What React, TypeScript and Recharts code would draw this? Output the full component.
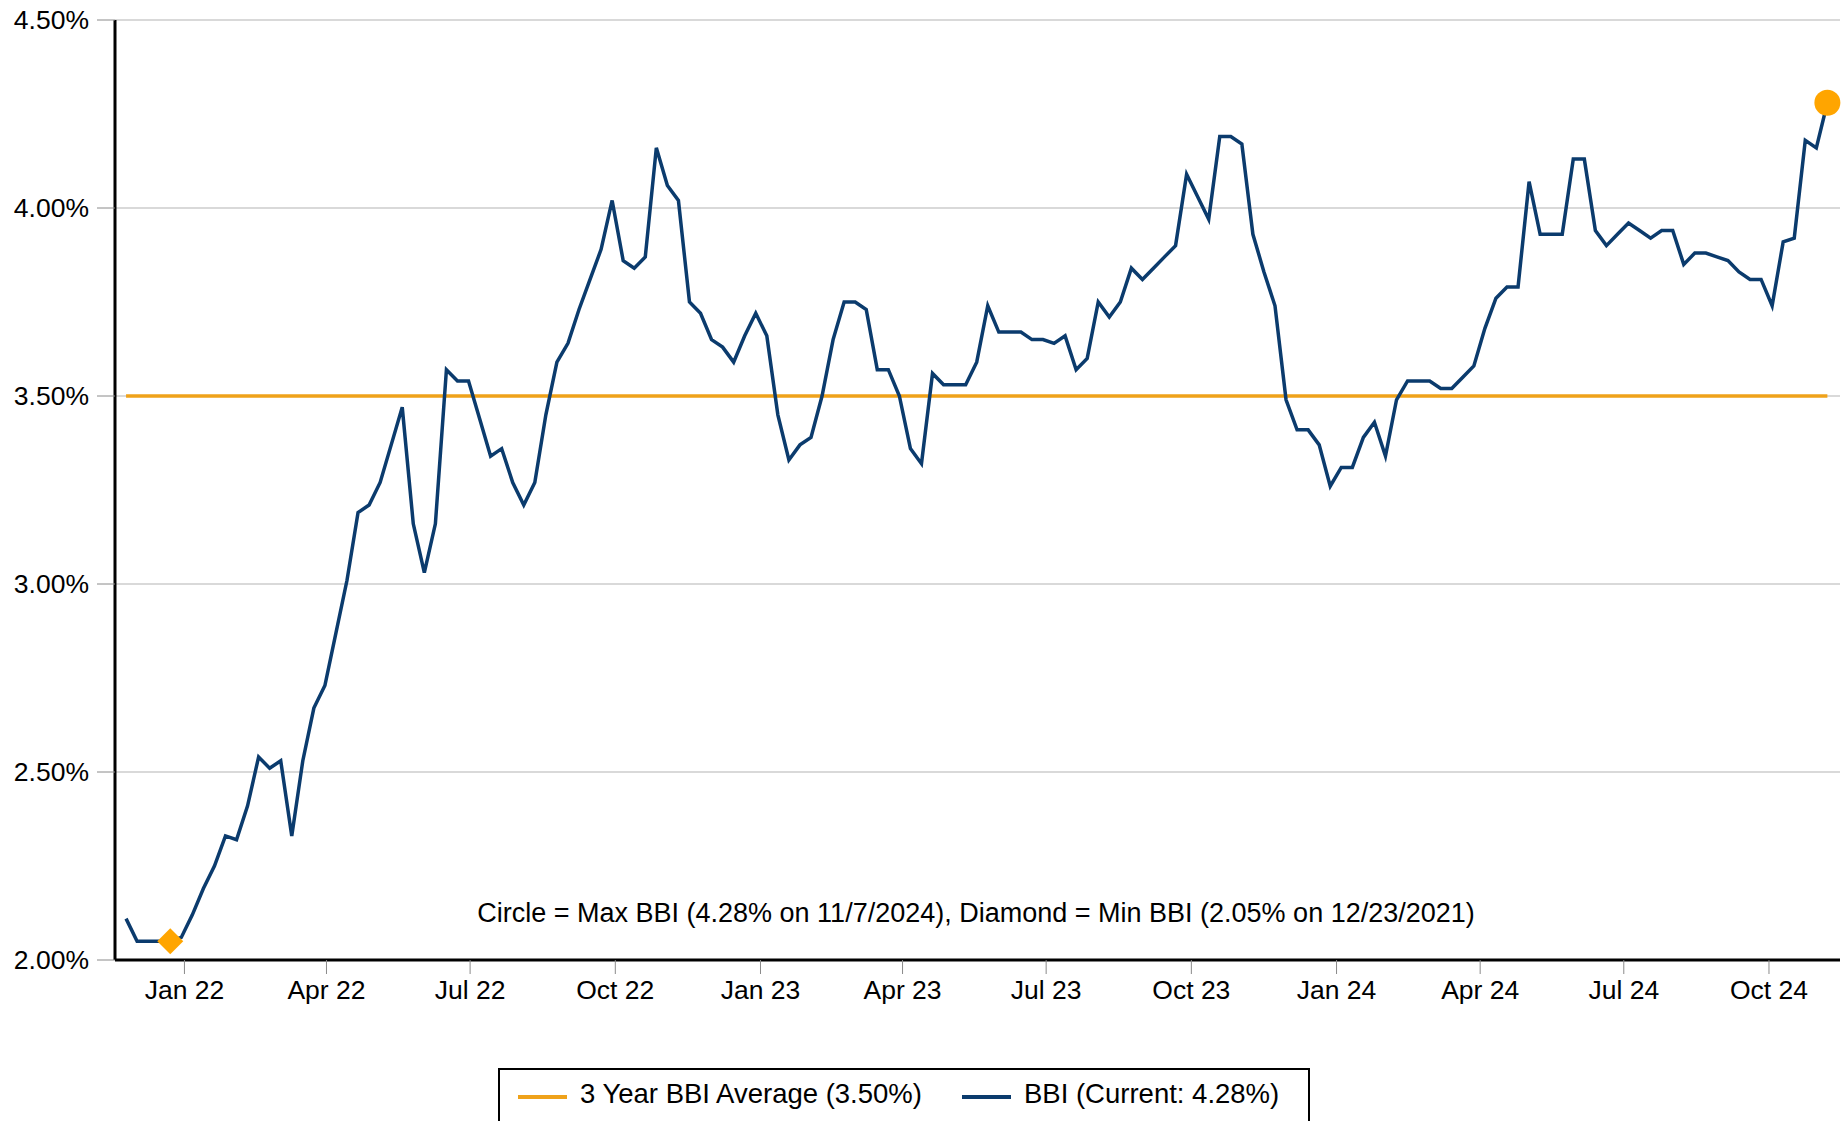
import React from 'react';
import { LineChart, Line, XAxis, YAxis, CartesianGrid, ReferenceDot } from 'recharts';

// Weekly BBI readings (%), first reading 2021-11-25, last 2024-11-07
const START_DATE = '2021-11-25';
const bbiValues: number[] = [
  2.11, 2.05, 2.05, 2.05, 2.05, 2.06, 2.12, 2.19, 2.25, 2.33,
  2.32, 2.41, 2.54, 2.51, 2.53, 2.33, 2.53, 2.67, 2.73, 2.87,
  3.01, 3.19, 3.21, 3.27, 3.37, 3.47, 3.16, 3.03, 3.16, 3.57,
  3.54, 3.54, 3.44, 3.34, 3.36, 3.27, 3.21, 3.27, 3.45, 3.59,
  3.64, 3.73, 3.81, 3.89, 4.02, 3.86, 3.84, 3.87, 4.16, 4.06,
  4.02, 3.75, 3.72, 3.65, 3.63, 3.59, 3.66, 3.72, 3.66, 3.45,
  3.33, 3.37, 3.39, 3.50, 3.65, 3.75, 3.75, 3.73, 3.57, 3.57,
  3.50, 3.36, 3.32, 3.56, 3.53, 3.53, 3.53, 3.59, 3.74, 3.67,
  3.67, 3.67, 3.65, 3.65, 3.64, 3.66, 3.57, 3.60, 3.75, 3.71,
  3.75, 3.84, 3.81, 3.84, 3.87, 3.90, 4.09, 4.03, 3.97, 4.19,
  4.19, 4.17, 3.93, 3.83, 3.74, 3.49, 3.41, 3.41, 3.37, 3.26,
  3.31, 3.31, 3.39, 3.43, 3.34, 3.49, 3.54, 3.54, 3.54, 3.52,
  3.52, 3.55, 3.58, 3.68, 3.76, 3.79, 3.79, 4.07, 3.93, 3.93,
  3.93, 4.13, 4.13, 3.94, 3.90, 3.93, 3.96, 3.94, 3.92, 3.94,
  3.94, 3.85, 3.88, 3.88, 3.87, 3.86, 3.83, 3.81, 3.81, 3.74,
  3.91, 3.92, 4.18, 4.16, 4.28,
];
const AVG_3Y = 3.5;
const MAX_POINT = { date: '2024-11-07', value: 4.28 };
const MIN_POINT = { date: '2021-12-23', value: 2.05 };
const yTicks = [2.0, 2.5, 3.0, 3.5, 4.0, 4.5];
const xTickDates = [
  '2022-01-01', '2022-04-01', '2022-07-01', '2022-10-01',
  '2023-01-01', '2023-04-01', '2023-07-01', '2023-10-01',
  '2024-01-01', '2024-04-01', '2024-07-01', '2024-10-01',
];
const MONTHS = ['Jan', 'Feb', 'Mar', 'Apr', 'May', 'Jun', 'Jul', 'Aug', 'Sep', 'Oct', 'Nov', 'Dec'];
const X_DOMAIN = ['2021-11-18', '2024-11-15'];

const ts = (s: string) => Date.parse(s + 'T00:00:00Z');
const DAY = 86400000;

const data = bbiValues.map((v, i) => ({
  t: ts(START_DATE) + i * 7 * DAY,
  bbi: v,
  avg: AVG_3Y,
}));

const NAVY = '#0B3B6D';
const ORANGE_LINE = '#EFA21A';
const ORANGE_MARK = '#FFA500';
const FONT = 'Arial, "Liberation Sans", sans-serif';

const fmtX = (t: number) => {
  const d = new Date(t);
  return `${MONTHS[d.getUTCMonth()]} ${String(d.getUTCFullYear()).slice(2)}`;
};

const Diamond = (props: any) => {
  const { cx, cy } = props;
  const r = 13;
  return (
    <polygon
      points={`${cx},${cy - r} ${cx + r},${cy} ${cx},${cy + r} ${cx - r},${cy}`}
      fill={ORANGE_MARK}
    />
  );
};

export default function App() {
  return (
    <div
      style={{
        position: 'absolute',
        left: 0,
        top: 0,
        width: 1846,
        height: 1121,
        overflow: 'hidden',
        background: '#fff',
        fontFamily: FONT,
      }}
    >
      <LineChart
        width={1846}
        height={1121}
        data={data}
        margin={{ top: 20, right: 6, left: 0, bottom: 101 }}
      >
        <CartesianGrid horizontal vertical={false} stroke="#d9d9d9" strokeWidth={2} />
        <XAxis
          dataKey="t"
          type="number"
          scale="time"
          domain={[ts(X_DOMAIN[0]), ts(X_DOMAIN[1])]}
          ticks={xTickDates.map(ts)}
          tickFormatter={fmtX}
          height={60}
          axisLine={{ stroke: '#000', strokeWidth: 3 }}
          tickLine={{ stroke: '#8a8a8a', strokeWidth: 1 }}
          tickSize={14}
          tickMargin={6}
          tick={{ fill: '#000', fontSize: 26.5, fontFamily: FONT }}
          allowDataOverflow
        />
        <YAxis
          type="number"
          domain={[2, 4.5]}
          ticks={yTicks}
          tickFormatter={(v: number) => `${v.toFixed(2)}%`}
          width={115}
          axisLine={{ stroke: '#000', strokeWidth: 3 }}
          tickLine={{ stroke: '#8a8a8a', strokeWidth: 1 }}
          tickSize={18}
          tickMargin={8}
          tick={{ fill: '#000', fontSize: 26.5, fontFamily: FONT }}
        />
        <Line
          type="linear"
          dataKey="avg"
          stroke={ORANGE_LINE}
          strokeWidth={3.5}
          dot={false}
          activeDot={false}
          isAnimationActive={false}
        />
        <Line
          type="linear"
          dataKey="bbi"
          stroke={NAVY}
          strokeWidth={3.5}
          dot={false}
          activeDot={false}
          isAnimationActive={false}
        />
        <ReferenceDot
          x={ts(MIN_POINT.date)}
          y={MIN_POINT.value}
          r={13}
          shape={Diamond}
        />
        <ReferenceDot
          x={ts(MAX_POINT.date)}
          y={MAX_POINT.value}
          r={13}
          fill={ORANGE_MARK}
          stroke="none"
        />
      </LineChart>

      <div
        style={{
          position: 'absolute',
          left: 976,
          top: 898,
          transform: 'translateX(-50%)',
          fontSize: 27,
          lineHeight: '30px',
          whiteSpace: 'nowrap',
          color: '#000',
        }}
      >
        Circle = Max BBI (4.28% on 11/7/2024), Diamond = Min BBI (2.05% on 12/23/2021)
      </div>

      <div
        style={{
          position: 'absolute',
          left: 498,
          top: 1068,
          width: 812,
          height: 80,
          border: '2px solid #000',
          boxSizing: 'border-box',
          fontSize: 27.5,
          color: '#000',
        }}
      >
        <div style={{ position: 'absolute', left: 18, top: 25, width: 49, height: 4, background: ORANGE_LINE }} />
        <div style={{ position: 'absolute', left: 80, top: 9, lineHeight: '30px', whiteSpace: 'nowrap' }}>
          3 Year BBI Average (3.50%)
        </div>
        <div style={{ position: 'absolute', left: 462, top: 25, width: 49, height: 4, background: NAVY }} />
        <div style={{ position: 'absolute', left: 524, top: 9, lineHeight: '30px', whiteSpace: 'nowrap' }}>
          BBI (Current: 4.28%)
        </div>
      </div>
    </div>
  );
}
